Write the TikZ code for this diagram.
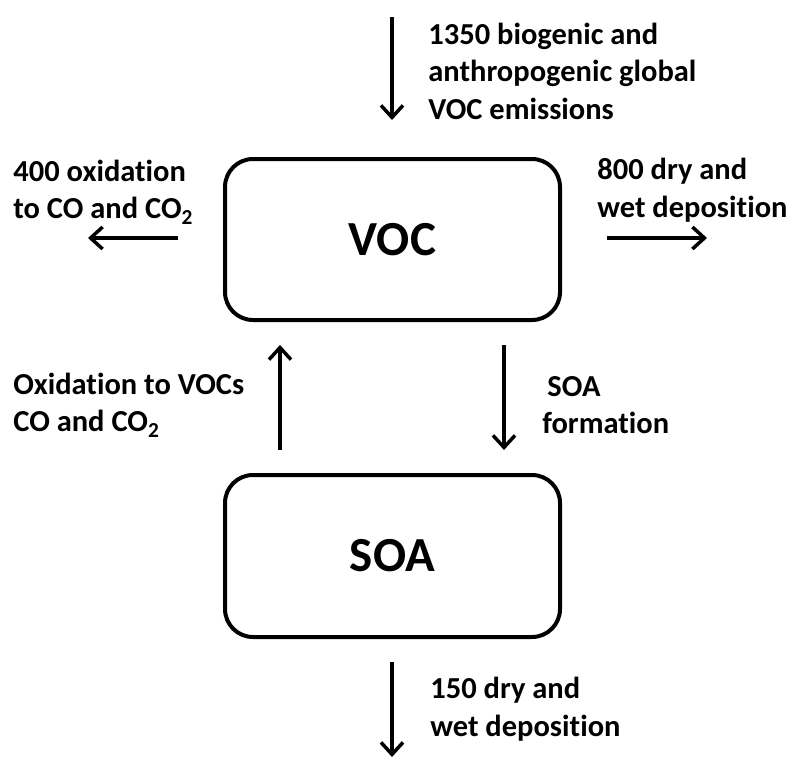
\documentclass[tikz,border=0pt]{standalone}
\usepackage{fontspec}
\setmainfont{Carlito}[RawFeature=-liga]
\usetikzlibrary{arrows.meta}

\begin{document}
\begin{tikzpicture}[x=1pt, y=-1pt, thick,
        box/.style = {draw, line width=4pt, rounded corners=28pt, minimum width=335pt, font=\fontsize{49}{52}\selectfont\bfseries},
        lbl/.style = {anchor=west, inner sep=0pt, align=left, font=\fontsize{30.5}{37.5}\selectfont\bfseries},
        flow/.style = {line width=3.5pt, -{Straight Barb[length=12pt, width=22pt, line width=3.5pt]}}]
        \useasboundingbox (0,0) rectangle (790,760);
        \node[box, minimum height=161pt] (voc) at (392.5,239.5) {VOC};
        \node[box, minimum height=162pt] (soa) at (392.5,556) {SOA};
        % free ends of the arrows
        \coordinate (in) at (392,17);
        \coordinate (intip) at (392,120);
        \coordinate (ox) at (178,238);
        \coordinate (oxtip) at (88,238);
        \coordinate (dep) at (607,238);
        \coordinate (deptip) at (707,238);
        \coordinate (back) at (280,450);
        \coordinate (backtip) at (280,345);
        \coordinate (form) at (504,345);
        \coordinate (formtip) at (504,450);
        \coordinate (out) at (392,662);
        \coordinate (outtip) at (392,757);
        \draw[flow] (in) -- (intip);
        \draw[flow] (ox) -- (oxtip);
        \draw[flow] (dep) -- (deptip);
        \draw[flow] (back) -- (backtip);
        \draw[flow] (form) -- (formtip);
        \draw[flow] (out) -- (outtip);
        \node[lbl] (l1) at (428,71) {1350 biogenic and\\anthropogenic global\\VOC emissions};
        \node[lbl] (l2) at (13,192) {400 oxidation\\to CO and CO\textsubscript{2}};
        \node[lbl] (l3) at (597,190) {800 dry and\\wet deposition};
        \node[lbl] (l4) at (13,405) {Oxidation to VOCs\\CO and CO\textsubscript{2}};
        \node[lbl] (l5) at (542,405) {\hspace{5pt}SOA\\formation};
        \node[lbl] (l6) at (430,709) {150 dry and\\wet deposition};
    \end{tikzpicture}
\end{document}
